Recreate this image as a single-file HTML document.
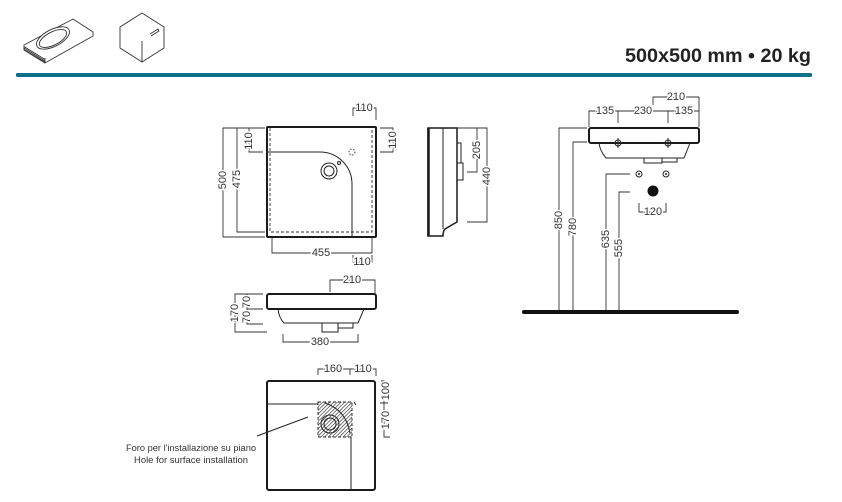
<!DOCTYPE html>
<html><head><meta charset="utf-8"><style>
html,body{margin:0;padding:0;background:#fff;}
svg{display:block;}
.t{font-family:"Liberation Sans",Arial,sans-serif;font-size:11px;fill:#333;stroke:#fff;stroke-width:3px;paint-order:stroke;text-anchor:middle;dominant-baseline:central;}
.d{fill:none;stroke:#333;stroke-width:0.9;}
.o{fill:none;stroke:#1a1a1a;stroke-width:2;}
.l{fill:none;stroke:#222;stroke-width:1;}
</style></head><body>
<svg width="842" height="502" viewBox="0 0 842 502" xmlns="http://www.w3.org/2000/svg">
<defs>
<pattern id="h" width="2.6" height="2.6" patternUnits="userSpaceOnUse" patternTransform="rotate(45)">
<line x1="0" y1="0" x2="0" y2="2.6" stroke="#222" stroke-width="1.2"/>
</pattern>
</defs>
<rect width="842" height="502" fill="#fff"/>

<!-- header icons -->
<g fill="#fff" stroke="#333" stroke-width="0.9" stroke-linejoin="round">
<path d="M24 45 L73 19 L93 32 L45 58 Z"/>
<path d="M24 45 V50 L45 63 L93 36 V32"/>
<path d="M24 46.5 L45 59.5 M24 48 L45 61 M24 49.5 L45 62.2 M45 58 V63" />
<ellipse cx="53" cy="38" rx="18" ry="8.5" transform="rotate(-27 53 38)"/>
<ellipse cx="53" cy="38.5" rx="15" ry="6.5" transform="rotate(-27 53 38.5)"/>
<path d="M120 27 L142 13 L164 27 L142 41 Z"/>
<path d="M120 27 V48 L142 62 L164 48 V27 M142 41 V62"/>
<path d="M150 34 L158 29 L159 31 L151 36"/>
</g>

<!-- title -->
<text x="811" y="62" text-anchor="end" textLength="186" lengthAdjust="spacingAndGlyphs" style="font-family:'Liberation Sans',Arial,sans-serif;font-size:19px;font-weight:bold;fill:#222;">500x500 mm • 20 kg</text>
<rect x="16" y="73" width="796" height="4" rx="1.5" fill="#0f6e88"/>

<!-- TOP VIEW -->
<rect x="267" y="127" width="109" height="110" class="o" rx="1"/>
<path d="M270 128 V232 H372 V128" fill="none" stroke="#333" stroke-width="0.9" stroke-dasharray="3,2"/>
<path d="M267 152 H320 A32 32 0 0 1 352 184 V237" class="l"/>
<circle cx="329" cy="171" r="8" class="l"/>
<circle cx="329" cy="171" r="5" class="l"/>
<circle cx="339" cy="163" r="1.5" class="l"/>
<circle cx="352" cy="152" r="3" fill="none" stroke="#333" stroke-width="0.9" stroke-dasharray="1.5,1.5"/>
<path class="d" d="M265 128 H223 V237 H265"/>
<path class="d" d="M237 128 V232 H265"/>
<path class="d" d="M255 128 H249 V152 H263"/>
<path class="d" d="M380 128 H393 V152 H380"/>
<path class="d" d="M353 116 V108 H376 V120"/>
<path class="d" d="M272 238 V253 H372 V238"/>
<path class="d" d="M353 255 V262 H372 V255"/>
<text class="t" transform="rotate(-90 223 180)" x="223" y="180">500</text>
<text class="t" transform="rotate(-90 237 179)" x="237" y="179">475</text>
<text class="t" transform="rotate(-90 249 141)" x="249" y="141">110</text>
<text class="t" transform="rotate(-90 393 140)" x="393" y="140">110</text>
<text class="t" x="364" y="108">110</text>
<text class="t" x="321" y="253">455</text>
<text class="t" x="362" y="262">110</text>

<!-- SIDE VIEW -->
<path d="M428 128 H457 V222 Q450 226 445 229 Q443 231 443 236 H428 Z" fill="none" stroke="#1a1a1a" stroke-width="1.5"/>
<line x1="428.5" y1="128" x2="428.5" y2="236" stroke="#1a1a1a" stroke-width="2.5"/>
<line x1="443" y1="128" x2="443" y2="229" class="l"/>
<rect x="457" y="143" width="4" height="20" class="l"/>
<rect x="457" y="163" width="6" height="17" class="l"/>
<path class="d" d="M457 128 H487 V222 H467"/>
<path class="d" d="M477 128 V172 H467"/>
<text class="t" transform="rotate(-90 477 150)" x="477" y="150">205</text>
<text class="t" transform="rotate(-90 487 176)" x="487" y="176">440</text>

<!-- FRONT VIEW RIGHT -->
<rect x="589" y="128" width="110" height="15" rx="2" class="o"/>
<path d="M599 143 Q600 151 606 158 H684 L690 143" class="l" stroke-width="1.2"/>
<rect x="644" y="158" width="18" height="5" class="l"/>
<rect x="662" y="158" width="15" height="4" class="l"/>
<g class="l"><circle cx="618" cy="143" r="3"/><path d="M613 143 H623 M618 138 V148"/>
<circle cx="668" cy="143" r="3"/><path d="M663 143 H673 M668 138 V148"/></g>
<path class="d" d="M589 127 V111 H699"/>
<path class="d" d="M618 111 V123 M668 111 V123 M699 97 V127"/>
<path class="d" d="M653 105 V97 H699"/>
<text class="t" x="605" y="111">135</text>
<text class="t" x="643" y="111">230</text>
<text class="t" x="684" y="111">135</text>
<text class="t" x="676" y="97">210</text>
<circle cx="639" cy="174" r="3" class="l"/><circle cx="639" cy="174" r="1" fill="#222"/>
<circle cx="666" cy="174" r="3" class="l"/><circle cx="666" cy="174" r="1" fill="#222"/>
<circle cx="653" cy="191" r="5.5" fill="#111"/>
<path class="d" d="M639 203 V212 H666 V203"/>
<text class="t" x="653" y="212">120</text>
<path class="d" d="M587 128 H559 V312"/>
<path class="d" d="M587 142 H573 V312"/>
<path class="d" d="M630 174 H606 V312"/>
<path class="d" d="M630 192 H619 V312"/>
<text class="t" transform="rotate(-90 559 220)" x="559" y="220">850</text>
<text class="t" transform="rotate(-90 573 227)" x="573" y="227">780</text>
<text class="t" transform="rotate(-90 606 239)" x="606" y="239">635</text>
<text class="t" transform="rotate(-90 619 248)" x="619" y="248">555</text>
<line x1="524" y1="312" x2="737" y2="312" stroke="#111" stroke-width="4" stroke-linecap="round"/>

<!-- FRONT VIEW LEFT -->
<rect x="267" y="294" width="109" height="15" rx="2" class="o"/>
<path d="M278 309 Q279 318 284 323 H358 L364 309" class="l" stroke-width="1.2"/>
<rect x="322" y="323" width="16" height="9" class="l"/>
<rect x="338" y="323" width="15" height="5" class="l"/>
<path class="d" d="M330 292 V280 H375 V294"/>
<path class="d" d="M263 294 H235 V332 H267"/>
<path class="d" d="M247 294 V324 H263 M247 309 H263"/>
<path class="d" d="M283 334 V342 H358 V334"/>
<text class="t" x="352" y="280">210</text>
<text class="t" transform="rotate(-90 235 313)" x="235" y="313">170</text>
<text class="t" transform="rotate(-90 247 302)" x="247" y="302">70</text>
<text class="t" transform="rotate(-90 247 317)" x="247" y="317">70</text>
<text class="t" x="320" y="342">380</text>

<!-- BOTTOM VIEW -->
<rect x="267" y="381" width="108" height="109" rx="2" class="o"/>
<path d="M267 404 H318" class="l"/>
<path d="M351 437 V490" class="l"/>
<rect x="318" y="402" width="34" height="35" fill="url(#h)"/>
<rect x="318" y="402" width="34" height="35" fill="none" stroke="#222" stroke-width="0.9" stroke-dasharray="3,2"/>
<circle cx="330" cy="424" r="9" fill="none" stroke="#222" stroke-width="1"/>
<circle cx="330" cy="424" r="6" fill="none" stroke="#222" stroke-width="1"/>
<path d="M325 403 Q346 410 350 433" class="l"/>
<path d="M354 402 L356 405" class="l"/>
<line x1="308" y1="417" x2="257" y2="436" class="l" stroke-width="0.8"/>
<text x="191" y="451" text-anchor="middle" textLength="130" lengthAdjust="spacingAndGlyphs" style="font-family:'Liberation Sans',Arial,sans-serif;font-size:9px;fill:#333;">Foro per l'installazione su piano</text>
<text x="191" y="463" text-anchor="middle" textLength="114" lengthAdjust="spacingAndGlyphs" style="font-family:'Liberation Sans',Arial,sans-serif;font-size:9px;fill:#333;">Hole for surface installation</text>
<path class="d" d="M318 375 V369 H376 V376 M350 369 V375"/>
<text class="t" x="333" y="369">160</text>
<text class="t" x="363" y="369">110</text>
<path class="d" d="M381 381 H384 V437 H390 M380 403 H388"/>
<text class="t" transform="rotate(-90 386 391)" x="386" y="391">100</text>
<text class="t" transform="rotate(-90 386 420)" x="386" y="420">170</text>
</svg>
</body></html>
